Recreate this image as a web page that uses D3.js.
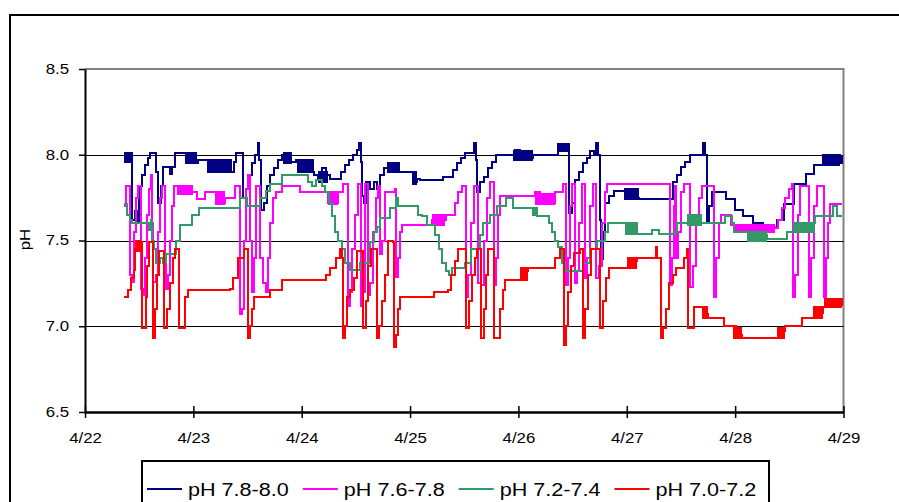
<!DOCTYPE html>
<html>
<head>
<meta charset="utf-8">
<script src="https://cdnjs.cloudflare.com/ajax/libs/d3/7.8.5/d3.min.js"></script>
<style>
body { margin: 0; background: #fff; }
svg { display: block; font-family: Arial, "Liberation Sans", sans-serif; }
</style>
</head>
<body>
<div id="chart"></div>
<script>
// tick labels
var dayLabels = ["4/22", "4/23", "4/24", "4/25", "4/26", "4/27", "4/28", "4/29"];
var yTicks = [6.5, 7.0, 7.5, 8.0, 8.5];
var gridValues = [7.0, 7.5, 8.0];

var seriesNames = ["pH 7.8-8.0", "pH 7.6-7.8", "pH 7.2-7.4", "pH 7.0-7.2"];
var seriesColors = ["#000080", "#ff00ff", "#339966", "#ff0000"];

// [days since 4/22 00:00, pH]
var ph78 = [[0.360,8.00],[0.397,7.96],[0.425,8.01],[0.434,7.62],[0.462,7.67],[0.480,7.60],[0.499,7.82],[0.526,7.88],[0.554,7.94],[0.582,7.98],[0.600,8.01],[0.637,8.01],[0.656,7.90],[0.674,7.72],[0.702,7.82],[0.720,7.93],[0.766,7.93],[0.785,7.89],[0.803,7.93],[0.831,8.01],[0.933,8.01],[0.960,7.95],[0.988,8.01],[1.016,7.95],[1.043,7.97],[1.136,7.97],[1.163,7.91],[1.210,7.96],[1.247,7.90],[1.302,7.95],[1.339,7.90],[1.376,7.96],[1.394,8.01],[1.450,8.01],[1.459,7.75],[1.487,7.80],[1.514,7.88],[1.542,7.95],[1.570,8.00],[1.597,8.07],[1.607,7.97],[1.625,7.68],[1.653,7.72],[1.681,7.82],[1.708,7.88],[1.745,7.92],[1.782,7.97],[1.819,8.00],[1.847,7.95],[1.874,8.00],[1.902,7.96],[1.948,7.97],[1.985,7.93],[2.041,7.96],[2.078,7.90],[2.115,7.88],[2.151,7.86],[2.188,7.92],[2.225,7.88],[2.262,7.86],[2.336,7.86],[2.364,7.90],[2.401,7.94],[2.438,7.97],[2.475,8.00],[2.512,8.03],[2.530,8.07],[2.548,7.96],[2.558,7.76],[2.576,7.72],[2.595,7.84],[2.632,7.80],[2.669,7.84],[2.696,7.80],[2.724,7.88],[2.761,7.92],[2.798,7.95],[2.835,7.91],[2.872,7.95],[2.899,7.90],[3.019,7.90],[3.038,7.84],[3.066,7.86],[3.093,7.85],[3.278,7.85],[3.306,7.87],[3.370,7.87],[3.398,7.91],[3.435,7.95],[3.472,7.98],[3.509,8.01],[3.573,8.01],[3.592,8.07],[3.610,7.97],[3.620,7.78],[3.647,7.84],[3.684,7.87],[3.721,7.92],[3.758,7.96],[3.795,8.00],[3.943,8.00],[3.970,8.03],[4.017,7.98],[4.063,8.02],[4.109,7.98],[4.137,8.00],[4.349,8.00],[4.368,8.06],[4.432,8.03],[4.460,8.06],[4.469,7.66],[4.497,7.72],[4.524,7.85],[4.561,7.90],[4.598,7.95],[4.635,7.98],[4.663,8.02],[4.700,8.00],[4.718,8.07],[4.737,8.00],[4.755,7.62],[4.765,7.39],[4.783,7.55],[4.802,7.72],[4.838,7.76],[4.885,7.79],[4.977,7.79],[5.005,7.75],[5.051,7.80],[5.088,7.75],[5.115,7.74],[5.402,7.74],[5.429,7.84],[5.466,7.88],[5.503,7.93],[5.540,7.96],[5.586,8.00],[5.679,8.00],[5.706,8.07],[5.725,8.00],[5.743,7.61],[5.762,7.70],[5.789,7.78],[5.910,7.78],[5.919,7.74],[5.993,7.74],[6.002,7.68],[6.066,7.68],[6.076,7.64],[6.159,7.64],[6.168,7.60],[6.251,7.60],[6.260,7.57],[6.381,7.57],[6.390,7.62],[6.445,7.62],[6.454,7.71],[6.537,7.71],[6.547,7.83],[6.648,7.83],[6.657,7.89],[6.722,7.89],[6.731,7.94],[6.805,7.94],[6.842,8.00],[6.879,7.94],[6.925,8.00],[6.971,7.95],[6.990,8.00]];

var ph76 = [[0.360,7.70],[0.379,7.82],[0.406,7.82],[0.416,7.30],[0.434,7.26],[0.452,7.55],[0.471,7.75],[0.489,7.82],[0.508,7.82],[0.517,7.22],[0.536,7.18],[0.554,7.40],[0.572,7.65],[0.591,7.80],[0.609,7.88],[0.619,7.60],[0.628,7.26],[0.656,7.30],[0.674,7.55],[0.693,7.75],[0.711,7.82],[0.729,7.82],[0.739,7.40],[0.748,7.22],[0.766,7.30],[0.785,7.50],[0.803,7.70],[0.822,7.82],[0.877,7.82],[0.905,7.78],[1.016,7.78],[1.034,7.74],[1.108,7.78],[1.182,7.78],[1.210,7.72],[1.265,7.72],[1.293,7.75],[1.357,7.75],[1.385,7.82],[1.413,7.82],[1.431,7.07],[1.450,7.10],[1.468,7.50],[1.487,7.80],[1.505,7.88],[1.524,7.50],[1.542,7.20],[1.561,7.40],[1.579,7.82],[1.597,7.82],[1.616,7.40],[1.644,7.25],[1.671,7.20],[1.690,7.40],[1.708,7.60],[1.736,7.75],[1.764,7.78],[1.819,7.82],[1.985,7.78],[2.170,7.78],[2.244,7.72],[2.318,7.72],[2.336,7.78],[2.382,7.83],[2.419,7.83],[2.428,7.12],[2.447,7.20],[2.465,7.45],[2.493,7.65],[2.521,7.83],[2.539,7.83],[2.548,7.12],[2.567,7.20],[2.585,7.83],[2.604,7.83],[2.613,7.18],[2.632,7.25],[2.659,7.55],[2.687,7.75],[2.705,7.82],[2.724,7.42],[2.742,7.50],[2.770,7.78],[2.862,7.80],[2.872,7.29],[2.890,7.40],[2.909,7.55],[2.927,7.59],[3.167,7.59],[3.204,7.62],[3.324,7.62],[3.333,7.65],[3.389,7.65],[3.416,7.72],[3.444,7.78],[3.481,7.82],[3.509,7.82],[3.518,7.17],[3.537,7.30],[3.564,7.60],[3.592,7.82],[3.620,7.82],[3.629,7.25],[3.657,7.24],[3.684,7.50],[3.712,7.75],[3.740,7.84],[3.767,7.84],[3.777,7.24],[3.795,7.40],[3.813,7.65],[3.832,7.76],[4.155,7.78],[4.201,7.73],[4.294,7.72],[4.340,7.78],[4.386,7.78],[4.414,7.83],[4.432,7.83],[4.441,7.24],[4.460,7.40],[4.478,7.70],[4.497,7.83],[4.515,7.83],[4.524,7.25],[4.543,7.32],[4.561,7.60],[4.589,7.83],[4.608,7.83],[4.617,7.28],[4.635,7.40],[4.663,7.70],[4.691,7.83],[4.709,7.83],[4.718,7.28],[4.746,7.35],[4.774,7.60],[4.802,7.78],[4.820,7.83],[5.392,7.83],[5.402,7.24],[5.420,7.40],[5.439,7.70],[5.448,7.82],[5.457,7.40],[5.476,7.55],[5.503,7.78],[5.531,7.83],[5.577,7.83],[5.586,7.23],[5.614,7.35],[5.642,7.60],[5.669,7.75],[5.697,7.82],[5.799,7.82],[5.808,7.17],[5.827,7.40],[5.854,7.60],[5.873,7.65],[5.956,7.65],[5.965,7.59],[6.002,7.58],[6.371,7.57],[6.399,7.62],[6.436,7.69],[6.464,7.75],[6.500,7.80],[6.528,7.83],[6.537,7.17],[6.556,7.30],[6.584,7.65],[6.602,7.82],[6.676,7.82],[6.685,7.17],[6.704,7.40],[6.731,7.70],[6.759,7.82],[6.814,7.82],[6.824,7.17],[6.842,7.40],[6.861,7.60],[6.879,7.71],[6.990,7.71]];

var ph72 = [[0.360,7.71],[0.388,7.65],[0.416,7.62],[0.434,7.60],[0.572,7.60],[0.591,7.56],[0.609,7.62],[0.619,7.50],[0.637,7.45],[0.656,7.37],[0.693,7.40],[0.720,7.37],[0.748,7.42],[0.803,7.42],[0.840,7.50],[0.877,7.59],[0.970,7.59],[0.988,7.65],[1.034,7.65],[1.053,7.69],[1.404,7.69],[1.431,7.75],[1.468,7.75],[1.496,7.70],[1.588,7.70],[1.616,7.75],[1.671,7.79],[1.708,7.83],[1.801,7.83],[1.819,7.88],[2.031,7.88],[2.059,7.84],[2.096,7.82],[2.133,7.85],[2.188,7.82],[2.216,7.78],[2.253,7.72],[2.281,7.64],[2.308,7.55],[2.336,7.50],[2.373,7.45],[2.401,7.37],[2.447,7.33],[2.512,7.33],[2.539,7.37],[2.604,7.37],[2.632,7.49],[2.669,7.55],[2.696,7.58],[2.724,7.63],[2.789,7.63],[2.816,7.69],[2.862,7.69],[2.872,7.75],[2.890,7.70],[3.047,7.70],[3.075,7.65],[3.112,7.64],[3.139,7.64],[3.158,7.59],[3.204,7.59],[3.232,7.53],[3.269,7.45],[3.296,7.37],[3.333,7.32],[3.361,7.30],[3.389,7.34],[3.481,7.34],[3.509,7.37],[3.537,7.37],[3.564,7.45],[3.620,7.45],[3.647,7.53],[3.675,7.60],[3.721,7.60],[3.740,7.65],[3.786,7.65],[3.804,7.70],[3.860,7.70],[3.887,7.75],[3.924,7.75],[3.952,7.69],[4.109,7.69],[4.137,7.65],[4.155,7.69],[4.174,7.64],[4.266,7.64],[4.284,7.60],[4.312,7.55],[4.340,7.50],[4.368,7.46],[4.404,7.37],[4.432,7.32],[4.571,7.32],[4.598,7.37],[4.635,7.37],[4.663,7.45],[4.709,7.45],[4.728,7.50],[4.783,7.50],[4.802,7.55],[4.829,7.60],[4.986,7.60],[5.032,7.55],[5.069,7.60],[5.097,7.54],[5.217,7.54],[5.235,7.56],[5.282,7.56],[5.300,7.54],[5.448,7.55],[5.466,7.60],[5.559,7.60],[5.586,7.65],[5.651,7.65],[5.679,7.60],[5.863,7.60],[5.910,7.64],[5.974,7.60],[5.993,7.55],[6.113,7.55],[6.140,7.51],[6.233,7.53],[6.297,7.51],[6.464,7.51],[6.482,7.55],[6.574,7.55],[6.602,7.59],[6.676,7.57],[6.713,7.60],[6.741,7.64],[6.879,7.64],[6.907,7.70],[6.944,7.64],[6.990,7.64]];

var ph70 = [[0.360,7.17],[0.397,7.21],[0.425,7.28],[0.452,7.33],[0.462,7.45],[0.480,7.49],[0.517,7.49],[0.526,6.99],[0.554,6.99],[0.563,7.17],[0.572,7.35],[0.591,7.49],[0.619,7.49],[0.628,6.93],[0.646,7.10],[0.665,7.30],[0.683,7.44],[0.720,7.44],[0.729,6.99],[0.757,7.10],[0.785,7.25],[0.813,7.40],[0.831,7.45],[0.859,7.45],[0.868,6.99],[0.905,6.99],[0.923,7.17],[0.951,7.21],[1.339,7.22],[1.367,7.28],[1.413,7.40],[1.468,7.45],[1.496,7.45],[1.505,6.93],[1.524,7.00],[1.542,7.10],[1.561,7.17],[1.681,7.17],[1.708,7.21],[1.801,7.21],[1.819,7.27],[2.198,7.27],[2.225,7.30],[2.262,7.34],[2.318,7.40],[2.355,7.45],[2.373,7.40],[2.382,6.93],[2.401,7.00],[2.419,7.17],[2.447,7.21],[2.484,7.28],[2.512,7.44],[2.558,7.44],[2.567,6.99],[2.595,7.15],[2.613,7.35],[2.641,7.45],[2.687,7.45],[2.696,6.93],[2.715,7.00],[2.742,7.15],[2.770,7.30],[2.798,7.50],[2.844,7.49],[2.853,6.88],[2.872,6.95],[2.890,7.10],[2.909,7.17],[3.204,7.17],[3.223,7.20],[3.352,7.21],[3.380,7.30],[3.416,7.38],[3.444,7.45],[3.509,7.45],[3.518,6.99],[3.546,7.15],[3.573,7.30],[3.601,7.40],[3.620,7.45],[3.647,7.45],[3.657,6.93],[3.684,7.10],[3.703,7.30],[3.721,7.45],[3.767,7.45],[3.777,6.93],[3.813,6.93],[3.832,7.10],[3.860,7.21],[3.878,7.27],[4.017,7.27],[4.054,7.32],[4.090,7.34],[4.312,7.34],[4.340,7.40],[4.386,7.45],[4.414,7.45],[4.423,6.89],[4.441,7.00],[4.460,7.20],[4.488,7.35],[4.515,7.43],[4.571,7.45],[4.589,7.45],[4.598,6.93],[4.617,7.10],[4.645,7.30],[4.672,7.45],[4.728,7.45],[4.755,6.99],[4.783,7.15],[4.811,7.28],[4.838,7.34],[5.005,7.34],[5.051,7.38],[5.097,7.40],[5.263,7.40],[5.272,7.46],[5.282,7.40],[5.309,7.40],[5.319,6.93],[5.337,6.99],[5.365,7.10],[5.392,7.25],[5.429,7.30],[5.457,7.34],[5.512,7.34],[5.531,7.40],[5.559,7.45],[5.568,6.99],[5.605,6.99],[5.623,7.11],[5.697,7.11],[5.734,7.07],[5.753,7.05],[5.882,7.05],[5.900,7.00],[5.983,7.00],[6.011,6.95],[6.066,6.93],[6.390,6.93],[6.427,6.97],[6.464,7.00],[6.602,7.00],[6.620,7.05],[6.722,7.05],[6.768,7.08],[6.814,7.11],[6.833,7.16],[6.925,7.14],[6.971,7.16],[6.990,7.12]];

// stretches where the logger flickers between two readings: [from day, to day, low pH, high pH]
var flicker78 = [[0.360,0.425,7.96,8.01],[0.923,1.034,7.95,8.01],[1.127,1.357,7.90,7.97],[1.828,1.911,7.95,8.01],[1.957,2.115,7.90,7.97],[2.151,2.244,7.84,7.90],[2.789,2.890,7.90,7.95],[3.019,3.066,7.83,7.90],[3.952,4.137,7.97,8.02],[4.358,4.478,8.02,8.06],[4.977,5.115,7.74,7.80],[6.805,6.971,7.94,8.00]];
var flicker76 = [[0.850,0.997,7.77,7.82],[1.200,1.293,7.71,7.78],[2.244,2.336,7.71,7.78],[3.204,3.324,7.59,7.65],[4.155,4.340,7.71,7.77],[6.002,6.371,7.55,7.59]];
var flicker72 = [[4.986,5.097,7.54,7.60],[5.559,5.697,7.59,7.65],[6.113,6.297,7.50,7.55],[6.537,6.741,7.55,7.60]];
var flicker70 = [[0.462,0.517,7.44,7.50],[4.017,4.090,7.27,7.34],[5.005,5.097,7.34,7.40],[5.697,5.753,7.05,7.11],[5.983,6.066,6.93,6.99],[6.390,6.464,6.93,6.99],[6.722,6.814,7.05,7.11],[6.833,6.990,7.11,7.16]];

var seriesData = [ph78, ph76, ph72, ph70];
var flickerData = [flicker78, flicker76, flicker72, flicker70];

var width = 899;
var height = 502;
var stretch = 1.2; // text in the source is drawn a bit wide

var margin = { top: 69, right: 56, bottom: 90, left: 85 };

var svg = d3.select("#chart")
    .append("svg")
    .attr("width", width)
    .attr("height", height);

svg.append("rect").attr("width", width).attr("height", height).attr("fill", "#fff");

// chart frame (runs off the right and bottom edges)
svg.append("rect")
    .attr("x", 10).attr("y", 15)
    .attr("width", width + 20).attr("height", height + 20)
    .attr("fill", "none").attr("stroke", "#000").attr("stroke-width", 2);

var x = d3.scaleLinear().domain([0, 7]).range([margin.left, width - margin.right + 0.5]);
var y = d3.scaleLinear().domain([6.5, 8.5]).range([height - margin.bottom, margin.top]);

// plot area border, top and right in grey
svg.append("path")
    .attr("d", "M" + x(0) + "," + y(8.5) + "H" + x(7) + "V" + y(6.5))
    .attr("fill", "none").attr("stroke", "#808080").attr("stroke-width", 2);

// gridlines
svg.append("g")
    .selectAll("line")
    .data(gridValues)
    .enter()
    .append("line")
    .attr("x1", x(0)).attr("x2", x(7))
    .attr("y1", function(d) { return Math.round(y(d)) + 0.5; })
    .attr("y2", function(d) { return Math.round(y(d)) + 0.5; })
    .attr("stroke", "#000").attr("stroke-width", 1);

// data
var line = d3.line()
    .x(function(d) { return x(d[0]); })
    .y(function(d) { return y(d[1]); })
    .curve(d3.curveStepAfter);

var plot = svg.append("g").attr("shape-rendering", "crispEdges");
seriesData.forEach(function(data, i) {
    plot.append("g")
        .selectAll("rect")
        .data(flickerData[i])
        .enter()
        .append("rect")
        .attr("x", function(d) { return x(d[0]); })
        .attr("width", function(d) { return x(d[1]) - x(d[0]); })
        .attr("y", function(d) { return y(d[3]) - 1; })
        .attr("height", function(d) { return y(d[2]) - y(d[3]) + 2; })
        .attr("fill", seriesColors[i]);

    plot.append("path")
        .datum(data)
        .attr("d", line)
        .attr("fill", "none")
        .attr("stroke", seriesColors[i])
        .attr("stroke-width", 2);
});

// y axis
var yAxis = svg.append("g")
    .attr("transform", "translate(" + x(0) + ",0)")
    .call(d3.axisLeft(y).tickValues(yTicks).tickSize(6).tickSizeOuter(0)
        .tickFormat(d3.format(".1f")));
yAxis.select(".domain").attr("stroke", "#000").attr("stroke-width", 2);
yAxis.selectAll(".tick line").attr("stroke", "#000").attr("stroke-width", 1.5);
yAxis.selectAll("text")
    .attr("x", -16 / stretch)
    .attr("fill", "#000")
    .style("font-size", "14px")
    .style("font-family", "Arial, 'Liberation Sans', sans-serif")
    .attr("transform", "scale(" + stretch + ",1)");

// x axis, ticks cross the line
var xAxis = svg.append("g")
    .attr("transform", "translate(0," + y(6.5) + ")")
    .call(d3.axisBottom(x).tickValues(d3.range(dayLabels.length)).tickSizeOuter(0)
        .tickFormat(function(d) { return dayLabels[d]; }));
xAxis.select(".domain").attr("stroke", "#000").attr("stroke-width", 2.5);
xAxis.selectAll(".tick line").attr("y1", -6).attr("y2", 6).attr("stroke", "#000").attr("stroke-width", 1.5);
xAxis.selectAll("text")
    .attr("y", 31).attr("dy", 0)
    .attr("fill", "#000")
    .style("font-size", "14px")
    .style("font-family", "Arial, 'Liberation Sans', sans-serif")
    .attr("transform", "scale(" + stretch + ",1)");

// y title
svg.append("text")
    .attr("transform", "translate(30," + (y(7.5) - 1) + ") rotate(-90) scale(" + stretch + ",1)")
    .attr("text-anchor", "middle")
    .style("font-size", "14px")
    .text("pH");

// legend
var legend = svg.append("g");
legend.append("rect")
    .attr("x", 142).attr("y", 461)
    .attr("width", 627).attr("height", 60)
    .attr("fill", "#fff").attr("stroke", "#000").attr("stroke-width", 2);

var lx = 147;
seriesNames.forEach(function(name, i) {
    legend.append("line")
        .attr("x1", lx).attr("x2", lx + 35)
        .attr("y1", 489).attr("y2", 489)
        .attr("stroke", seriesColors[i]).attr("stroke-width", 2);
    var t = legend.append("text")
        .attr("transform", "translate(" + (lx + 41) + ",496) scale(" + stretch + ",1)")
        .style("font-size", "18px")
        .text(name);
    lx += 41 + t.node().getComputedTextLength() * stretch + 14;
});
</script>
</body>
</html>
